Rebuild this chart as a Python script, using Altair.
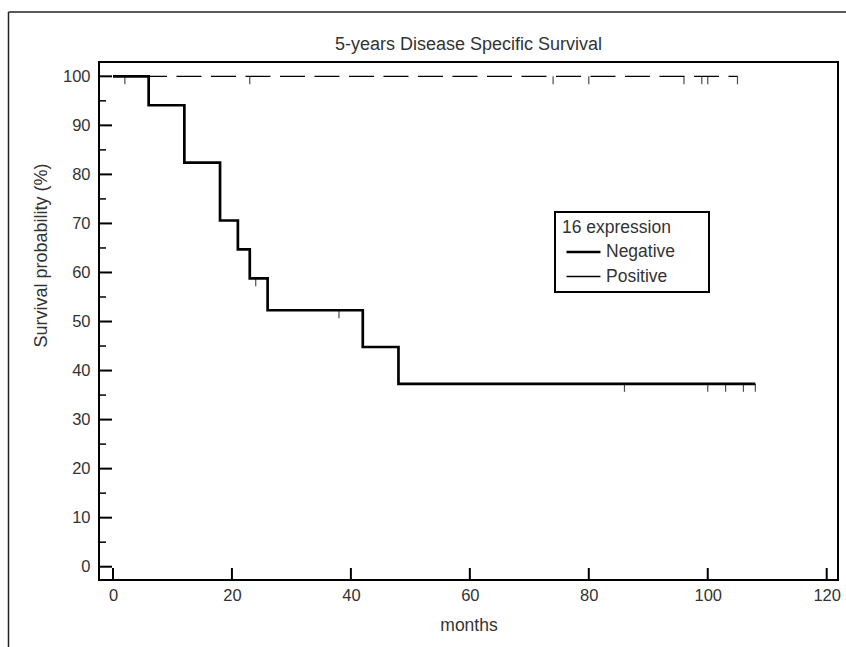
import altair as alt
import pandas as pd

# ---- data ----
neg_months = [0, 6, 12, 18, 21, 23, 26, 42, 48, 108]
neg_surv = [100, 94.1, 82.4, 70.6, 64.7, 58.8, 52.3, 44.8, 37.3, 37.3]
pos_months = [0, 105]
pos_surv = [100, 100]

neg_cens_months = [24, 38, 86, 100, 103, 106, 108]
neg_cens_surv = [58.8, 52.3, 37.3, 37.3, 37.3, 37.3, 37.3]
pos_cens_months = [2, 23, 74, 80, 96, 99, 100, 105]
pos_cens_surv = [100, 100, 100, 100, 100, 100, 100, 100]

groups = ["Negative", "Positive"]
x_ticks = [0, 20, 40, 60, 80, 100, 120]
y_major = [0, 10, 20, 30, 40, 50, 60, 70, 80, 90, 100]
y_minor = [5, 15, 25, 35, 45, 55, 65, 75, 85, 95]

W, H = 739, 518
FONT = "Liberation Sans"
TXT = "#333333"

neg_df = pd.DataFrame({"months": neg_months, "surv": neg_surv, "group": "Negative"})
pos_df = pd.DataFrame({"months": pos_months, "surv": pos_surv, "group": "Positive"})
cens_df = pd.DataFrame({
    "months": neg_cens_months + pos_cens_months,
    "surv": neg_cens_surv + pos_cens_surv,
})

xs = alt.Scale(domain=[-2.35, 121.9], nice=False, zero=False)
ys = alt.Scale(domain=[-2.71, 102.92], nice=False, zero=False)

xaxis = alt.Axis(values=x_ticks, ticks=False, domain=False, grid=False,
                 labelFontSize=16.5, labelColor=TXT, labelPadding=7,
                 titleFontSize=17.5, titleColor=TXT, titleFontWeight="normal",
                 titlePadding=13, labelFlush=False)
yaxis = alt.Axis(values=y_major, ticks=False, domain=False, grid=False,
                 labelFontSize=16.5, labelColor=TXT, labelPadding=9,
                 titleFontSize=18, titleColor=TXT, titleFontWeight="normal",
                 titleAngle=270, titleAlign="center", titleBaseline="middle",
                 titleX=-58, titleY=193)

x_enc = alt.X("months:Q", scale=xs, axis=xaxis, title="months")
y_enc = alt.Y("surv:Q", scale=ys, axis=yaxis, title="Survival probability (%)")

legend = alt.Legend(
    title="16 expression", orient="none", legendX=456, legendY=150,
    symbolType="M-0.75,0H2.08", symbolSize=576, symbolStrokeColor="black",
    labelOffset=17, labelFontSize=17.5, labelColor=TXT,
    titleFontSize=17.5, titleColor=TXT, titleFontWeight="normal",
    titlePadding=2, padding=7, rowPadding=3, strokeColor="black",
    cornerRadius=0, fillColor="white",
    labelExpr="datum.label + '\u2800\u2800'",
)
sw = alt.StrokeWidth("group:N", scale=alt.Scale(domain=groups, range=[2.7, 1.3]), legend=legend)

neg_line = alt.Chart(neg_df).mark_line(interpolate="step-after", color="black").encode(
    x=x_enc, y=y_enc, strokeWidth=sw)
pos_line = alt.Chart(pos_df).mark_line(interpolate="step-after", color="black",
                                       strokeDash=[25, 9.5], strokeDashOffset=5.5).encode(
    x=x_enc, y=y_enc, strokeWidth=sw)

cens = alt.Chart(cens_df).mark_tick(orient="vertical", color="black", thickness=1.2,
                                     size=8, yOffset=4).encode(x=x_enc, y=y_enc)

xt = alt.Chart(pd.DataFrame({"months": x_ticks})).mark_rule(color="black", strokeWidth=2).encode(
    x=x_enc, y=alt.value(H), y2=alt.value(H - 12))
ymaj = alt.Chart(pd.DataFrame({"surv": y_major})).mark_rule(color="black", strokeWidth=2).encode(
    y=y_enc, x=alt.value(0), x2=alt.value(13))
ymin = alt.Chart(pd.DataFrame({"surv": y_minor})).mark_rule(color="black", strokeWidth=1.5).encode(
    y=y_enc, x=alt.value(0), x2=alt.value(7))

# outer screenshot border
blank = pd.DataFrame({"k": [0]})
border_left = alt.Chart(blank).mark_rule(color="#222222", strokeWidth=1.5).encode(
    x=alt.value(-90.5), y=alt.value(-50), y2=alt.value(H + 67))
border_top = alt.Chart(blank).mark_rule(color="#222222", strokeWidth=1.5).encode(
    x=alt.value(-90.5), x2=alt.value(W + 8), y=alt.value(-50))

chart = alt.layer(ymin, ymaj, xt, cens, neg_line, pos_line, border_left, border_top).properties(
    width=W, height=H,
    autosize=alt.AutoSizeParams(type="none"),
    padding={"left": 99, "top": 62, "right": 8, "bottom": 67},
    title=alt.Title("5-years Disease Specific Survival", fontSize=18, fontWeight="normal",
                    color=TXT, baseline="alphabetic", offset=12, dy=68.5, anchor="middle"),
).configure(font=FONT).configure_view(stroke="black", strokeWidth=2).configure_legend(strokeWidth=2)

chart.save("out.html", embed_options={"renderer": "svg", "actions": False})
